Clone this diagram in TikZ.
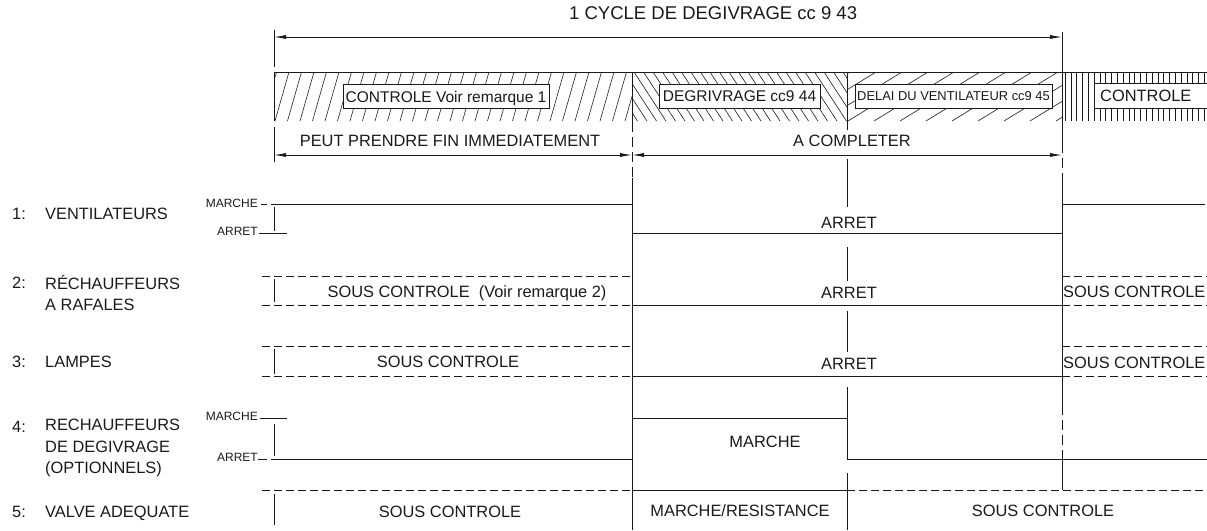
\documentclass[tikz,border=0pt]{standalone}
\usepackage{fontspec}
\setmainfont{Liberation Sans}
\usepackage{xcolor}
\usetikzlibrary{arrows.meta}
\definecolor{inkmain}{HTML}{1A1A1A}
\tikzset{every node/.append style={inner sep=0pt,text=inkmain}}
\tikzset{
  lbl/.style={font=\fontsize{16.4}{21.5}\selectfont,text height=11.7pt,text depth=0pt},
  lvl/.style={font=\fontsize{12}{14}\selectfont,text height=8.6pt,text depth=0pt,anchor=east},
  phasebox/.style={draw=inkmain,fill=white,line width=0.7pt,minimum height=24pt,
    font=\fontsize{15.5}{18}\selectfont,text height=11.1pt,text depth=0pt},
  sig/.style={inkmain,line width=0.9pt},
  dsig/.style={inkmain,line width=0.9pt,dash pattern=on 8pt off 4pt},
  hatchline/.style={inkmain,line width=0.6pt},
  dimline/.style={inkmain,line width=0.8pt,{Latex[length=12pt,width=4pt]}-{Latex[length=12pt,width=4pt]}}
}

\begin{document}
\begin{tikzpicture}[x=1pt,y=-1pt]
  \useasboundingbox (0,0) rectangle (1207,530);

  % hatched phase band
  \begin{scope}
    \clip (274,72) rectangle (632,121);
    \foreach \x in {250,262.5,...,640} \draw[hatchline] (\x,121) -- (\x+14,72);
  \end{scope}
  \begin{scope}
    \clip (632,72) rectangle (847,121);
    \foreach \x in {596,605.5,...,850} \draw[hatchline] (\x,72) -- (\x+32,121);
  \end{scope}
  \begin{scope}
    \clip (847,72) rectangle (1062,121);
    \foreach \x in {770,796,...,1062} \draw[hatchline] (\x,121) -- (\x+80,72);
  \end{scope}
  \foreach \x in {1065,1070.8,...,1207} \draw[hatchline] (\x,72) -- (\x,121);
  \draw[sig] (274,72) -- (1207,72);
  \draw[sig] (274,72) -- (274,121);
  \draw[sig] (847,72) -- (847,130);

  \node[phasebox,minimum width=206pt] (ctrlA) at (446,96.5) {CONTROLE Voir remarque 1};
  \node[phasebox,minimum width=161pt] (degiv) at (739.5,96) {DEGRIVRAGE cc9 44};
  \node[phasebox,minimum width=197pt,font=\fontsize{12.9}{15}\selectfont,text height=9.2pt] (delai) at (953.5,96) {DELAI DU VENTILATEUR cc9 45};
  \draw[sig,fill=white,line width=0.7pt] (1094,83) rectangle (1215,108);
  \node[lbl,anchor=west] (ctrlB) at (1100,96) {CONTROLE};

  % dimensions
  \draw[sig] (274,30) -- (274,67);
  \draw[sig] (274,127) -- (274,162);
  \draw[sig] (1062,32) -- (1062,143);
  \draw[dimline] (274,37) -- (1062,37);
  \node[lbl,anchor=west,font=\fontsize{18.5}{22}\selectfont,text height=13.2pt] (cycle) at (569,13) {1 CYCLE DE DEGIVRAGE cc 9 43};
  \draw[dimline] (274,155) -- (632,155);
  \draw[dimline] (632,155) -- (1062,155);
  \node[lbl] (peut) at (450,141) {PEUT PRENDRE FIN IMMEDIATEMENT};
  \node[lbl] (acomp) at (852,141) {A COMPLETER};

  % phase limits
  \draw[sig] (632,72) -- (632,122);
  \draw[inkmain,line width=0.9pt,dash pattern=on 10pt off 5pt] (632,122) -- (632,178);
  \draw[sig] (632,178) -- (632,530);
  \draw[inkmain,line width=0.9pt,dash pattern=on 10pt off 5pt] (1062,143) -- (1062,180);
  \draw[sig] (1062,180) -- (1062,405);
  \draw[inkmain,line width=0.9pt,dash pattern=on 10pt off 5pt] (1062,405) -- (1062,460);
  \draw[sig] (1062,460) -- (1062,490);
  \foreach \a/\b in {159/207,247/281,311/352,473/530}
    \draw[sig] (847,\a) -- (847,\b);

  % row labels
  \node[lbl,anchor=west] (n1) at (12,214) {1:};
  \node[lbl,anchor=west] (r1) at (45,214) {VENTILATEURS};
  \node[lbl,anchor=west] (n2) at (12,283) {2:};
  \node[lbl,anchor=north west,align=left,text height=,text depth=] (r2) at (45,275) {RÉCHAUFFEURS\\A RAFALES};
  \node[lbl,anchor=west] (n3) at (12,362) {3:};
  \node[lbl,anchor=west] (r3) at (45,362) {LAMPES};
  \node[lbl,anchor=west] (n4) at (12,427) {4:};
  \node[lbl,anchor=north west,align=left,text height=,text depth=] (r4) at (45,419) {RECHAUFFEURS\\DE DEGIVRAGE\\(OPTIONNELS)};
  \node[lbl,anchor=west] (n5) at (12,512) {5:};
  \node[lbl,anchor=west] (r5) at (45,512) {VALVE ADEQUATE};

  % 1: ventilateurs
  \node[lvl] (on1) at (258,203) {MARCHE};
  \node[lvl] (off1) at (258,231) {ARRET};
  \draw[sig] (261,204) -- (267,204);
  \draw[sig] (271,204) -- (632,204);
  \draw[sig] (274,207) -- (274,231);
  \draw[sig] (259,233) -- (287,233);
  \draw[sig] (632,233) -- (1062,233);
  \draw[sig] (1062,204) -- (1205,204);
  \node[lbl] (arret1) at (849,223) {ARRET};

  % 2: rechauffeurs a rafales
  \draw[dsig] (262,276) -- (632,276);
  \draw[dsig] (262,305) -- (632,305);
  \draw[sig] (274,279) -- (274,302);
  \draw[sig] (632,305) -- (1062,305);
  \draw[dsig] (1062,276) -- (1207,276);
  \draw[dsig] (1062,305) -- (1207,305);
  \node[lbl] (sc2) at (467,292) {SOUS CONTROLE\ \ (Voir remarque 2)};
  \node[lbl] (arret2) at (849,293) {ARRET};
  \node[lbl,anchor=west] (sc2r) at (1063,292) {SOUS CONTROLE};

  % 3: lampes
  \draw[dsig] (262,346) -- (632,346);
  \draw[dsig] (262,376) -- (632,376);
  \draw[sig] (274,349) -- (274,374);
  \draw[sig] (632,376) -- (1062,376);
  \draw[dsig] (1062,346) -- (1207,346);
  \draw[dsig] (1062,376) -- (1207,376);
  \node[lbl] (sc3) at (448,362) {SOUS CONTROLE};
  \node[lbl] (arret3) at (849,364) {ARRET};
  \node[lbl,anchor=west] (sc3r) at (1063,363) {SOUS CONTROLE};

  % 4: rechauffeurs de degivrage
  \node[lvl] (on4) at (258,416) {MARCHE};
  \node[lvl] (off4) at (258,457) {ARRET};
  \draw[sig] (260,418) -- (287,418);
  \draw[sig] (274,424) -- (274,456);
  \draw[sig] (258,459) -- (267,459);
  \draw[sig] (271,459) -- (632,459);
  \draw[sig] (632,418) -- (847,418) -- (847,459) -- (1207,459);
  \draw[sig] (847,387) -- (847,418);
  \node[lbl] (on4m) at (765,442) {MARCHE};

  % 5: valve adequate
  \draw[dsig] (262,490) -- (632,490);
  \draw[sig] (274,494) -- (274,525);
  \draw[sig] (632,490) -- (847,490);
  \draw[dsig] (847,490) -- (1207,490);
  \node[lbl] (sc5) at (450,512) {SOUS CONTROLE};
  \node[lbl] (mr5) at (740,511) {MARCHE/RESISTANCE};
  \node[lbl] (sc5r) at (1043,511) {SOUS CONTROLE};
\end{tikzpicture}
\end{document}
